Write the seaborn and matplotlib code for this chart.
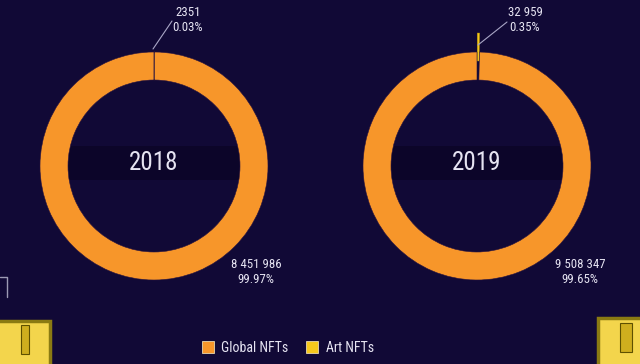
import matplotlib
matplotlib.use("Agg")
import matplotlib.pyplot as plt
import seaborn as sns
from matplotlib.patches import Rectangle
from matplotlib.lines import Line2D
from matplotlib import font_manager

# ---- data ----
years = ["2018", "2019"]
categories = ["Art NFTs", "Global NFTs"]
art_values = [2351, 32959]
global_values = [8451986, 9508347]
art_labels = ["2351\n0.03%", "32 959\n0.35%"]
global_labels = ["8 451 986\n99.97%", "9 508 347\n99.65%"]
legend_labels = ["Global NFTs", "Art NFTs"]

BG = "#110936"
BAND = "#0c0529"
ORANGE = "#f7962a"
YELLOW = "#f6c81c"
TXT = "#e6e4f2"
LINE = "#a9a6c6"

sns.set_theme(style="dark", rc={"axes.facecolor": BG, "figure.facecolor": BG})
pal = sns.color_palette([ORANGE, YELLOW])

names = {f.name for f in font_manager.fontManager.ttflist}
FONT = "Roboto Condensed" if "Roboto Condensed" in names else "DejaVu Sans"
plt.rcParams["font.family"] = [FONT, "DejaVu Sans"]

W, H = 640, 364
fig = plt.figure(figsize=(6.4, 3.64), dpi=100)
ax = fig.add_axes([0, 0, 1, 1])

def Y(py):
    return H - py

centers = [(154, Y(166)), (477, Y(166))]
R, RW = 114, 28
explodes = [0.0, 19.0]
top_text = [(188, Y(20)), (525, Y(20))]
top_line = [((153, Y(49)), (172, Y(21))), ((478, Y(45)), (507, Y(22)))]
bot_text = [(256, Y(272)), (580, Y(272))]

for i in range(2):
    cx, cy = centers[i]
    ax.add_patch(Rectangle((cx - 95, Y(180)), 190, 34, facecolor=BAND,
                           edgecolor="none", zorder=0))
    wedges, _ = ax.pie([art_values[i], global_values[i]],
                       colors=[pal[1], pal[0]], startangle=90, counterclock=False,
                       center=(cx, cy), radius=R, explode=[explodes[i], 0],
                       wedgeprops=dict(width=RW, edgecolor="#2a1440", linewidth=0.4))
    wedges[0].set_edgecolor("#a88608")
    wedges[0].set_linewidth(0.3)
    ax.text(cx, Y(163), years[i], ha="center", va="center", color=TXT,
            fontsize=18, zorder=5)
    (x0, y0), (x1, y1) = top_line[i]
    ax.plot([x0, x1], [y0, y1], color=LINE, lw=0.8, zorder=4)
    ax.text(*top_text[i], art_labels[i], ha="center", va="center", color=TXT,
            fontsize=9.3, linespacing=1.2, zorder=5)
    ax.text(*bot_text[i], global_labels[i], ha="center", va="center", color=TXT,
            fontsize=9.3, linespacing=1.2, zorder=5)

ax.set_xlim(0, W)
ax.set_ylim(0, H)
ax.set_aspect("equal")
ax.axis("off")

# decorative corner elements
ax.plot([0, 7, 7], [Y(277), Y(277), Y(297)], color="#9c9ab4", lw=1)
ax.add_patch(Rectangle((-3, Y(364) - 3), 53, Y(321) - Y(364) + 3,
                       facecolor="#f3d54c", edgecolor="#8a7a12", lw=2.5, zorder=3))
ax.add_patch(Rectangle((21, Y(354)), 8, 29, facecolor="#cfae1e",
                       edgecolor="#5e5000", lw=0.8, zorder=4))
ax.add_patch(Rectangle((598, Y(364) - 3), 45, Y(318) - Y(364) + 3,
                       facecolor="#f3d54c", edgecolor="#8a7a12", lw=2.5, zorder=3))
ax.add_patch(Rectangle((620, Y(352)), 12, 29, facecolor="#cfae1e",
                       edgecolor="#5e5000", lw=0.8, zorder=4))

handles = [Line2D([], [], marker="s", linestyle="none", markersize=9,
                  markerfacecolor=c, markeredgecolor="#e8d8b0", markeredgewidth=0.6)
           for c in [pal[0], pal[1]]]
leg = fig.legend(handles, legend_labels, loc="center", ncol=2,
                 bbox_to_anchor=(287.5 / W, 1 - 348 / H), frameon=False,
                 fontsize=10, handletextpad=0.45, columnspacing=1.2,
                 handlelength=1.0)
for t in leg.get_texts():
    t.set_color(TXT)

fig.savefig("out.png", dpi=100, facecolor=BG)
